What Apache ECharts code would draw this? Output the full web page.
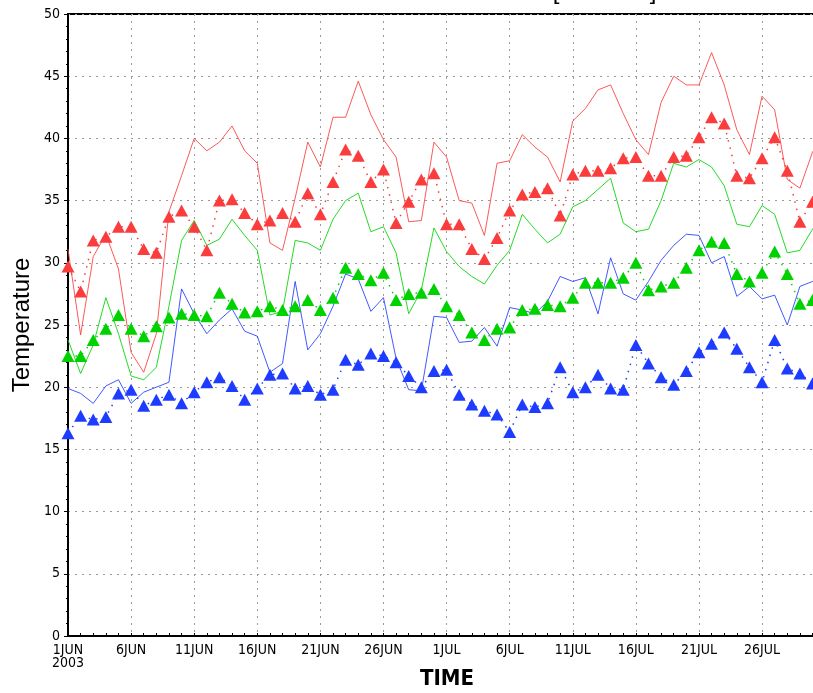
<!DOCTYPE html>
<html><head><meta charset="utf-8">
<script src="https://cdn.jsdelivr.net/npm/echarts@6/dist/echarts.min.js"></script>
<style>html,body{margin:0;padding:0;overflow:hidden;background:#fff;width:813px;height:693px}#c{width:880px;height:693px}</style>
</head><body><div id="c"></div><script>
const days = ['1JUN','2JUN','3JUN','4JUN','5JUN','6JUN','7JUN','8JUN','9JUN','10JUN',
'11JUN','12JUN','13JUN','14JUN','15JUN','16JUN','17JUN','18JUN','19JUN','20JUN',
'21JUN','22JUN','23JUN','24JUN','25JUN','26JUN','27JUN','28JUN','29JUN','30JUN',
'1JUL','2JUL','3JUL','4JUL','5JUL','6JUL','7JUL','8JUL','9JUL','10JUL',
'11JUL','12JUL','13JUL','14JUL','15JUL','16JUL','17JUL','18JUL','19JUL','20JUL',
'21JUL','22JUL','23JUL','24JUL','25JUL','26JUL','27JUL','28JUL','29JUL','30JUL',
'31JUL','1AUG','2AUG','3AUG'];
const labeledDays = ['1','6','11','16','21','26'];
const yearLabel = '2003';

const redLine = [31.1,24.2,30.5,32.3,29.5,22.8,21.2,24.3,34.1,37.0,
40.0,39.0,39.7,41.0,39.0,38.0,31.6,31.0,35.2,39.7,
37.7,41.7,41.7,44.6,41.9,39.9,38.5,33.3,33.4,39.7,
38.5,35.0,34.8,32.2,38.0,38.2,40.3,39.3,38.5,36.5,
41.4,42.4,43.9,44.3,42.0,39.9,38.7,42.9,45.0,44.3,
44.3,46.9,44.3,40.7,38.7,43.4,42.3,36.7,36.0,38.9,40.5];
const redTri = [29.7,27.7,31.8,32.1,32.9,32.9,31.1,30.8,33.7,34.2,
32.9,31.0,35.0,35.1,34.0,33.1,33.4,34.0,33.3,35.6,
33.9,36.5,39.1,38.6,36.5,37.5,33.2,34.9,36.7,37.2,
33.1,33.1,31.1,30.3,32.0,34.2,35.5,35.7,36.0,33.8,
37.1,37.4,37.4,37.6,38.4,38.5,37.0,37.0,38.5,38.6,
40.1,41.7,41.2,37.0,36.8,38.4,40.1,37.4,33.3,34.9,35.5];
const greenLine = [23.8,21.1,23.4,27.2,24.3,20.9,20.6,21.6,26.5,31.8,
33.4,31.4,31.9,33.5,32.2,31.0,25.8,26.1,31.8,31.6,
31.0,33.5,35.0,35.6,32.5,32.9,30.8,25.9,27.8,32.8,
30.9,29.7,28.9,28.3,29.8,31.0,33.9,32.7,31.6,32.3,
34.5,35.0,35.9,36.8,33.2,32.5,32.7,35.0,38.0,37.7,
38.3,37.7,36.2,33.1,32.9,34.6,33.9,30.8,31.0,32.7,34.0];
const greenTri = [22.5,22.5,23.8,24.7,25.8,24.7,24.1,24.9,25.6,25.9,
25.8,25.7,27.6,26.7,26.0,26.1,26.5,26.2,26.5,27.0,
26.2,27.2,29.6,29.1,28.6,29.2,27.0,27.5,27.6,27.9,
26.5,25.8,24.4,23.8,24.7,24.8,26.2,26.3,26.6,26.5,
27.2,28.4,28.4,28.4,28.8,30.0,27.8,28.1,28.4,29.6,
31.0,31.7,31.6,29.1,28.5,29.2,30.9,29.1,26.7,27.0,27.5];
const blueLine = [19.9,19.5,18.7,20.1,20.6,18.7,19.6,20.0,20.4,27.9,
25.9,24.3,25.4,26.3,24.5,24.1,21.2,21.9,28.5,23.0,
24.3,26.5,29.1,28.7,26.1,27.2,22.3,19.8,19.7,25.7,
25.6,23.6,23.7,24.8,23.3,26.4,26.2,25.9,26.9,28.9,
28.5,28.8,25.9,30.4,27.5,27.0,28.5,30.2,31.4,32.3,
32.2,30.0,30.5,27.3,28.1,27.1,27.4,25.0,28.1,28.5,29.0];
const blueTri = [16.3,17.7,17.4,17.6,19.5,19.8,18.5,19.0,19.4,18.7,
19.6,20.4,20.8,20.1,19.0,19.9,21.0,21.1,19.9,20.1,
19.4,19.8,22.2,21.8,22.7,22.5,22.0,20.9,20.0,21.3,
21.4,19.4,18.6,18.1,17.8,16.4,18.6,18.4,18.7,21.6,
19.6,20.0,21.0,19.9,19.8,23.4,21.9,20.8,20.2,21.3,
22.8,23.5,24.4,23.1,21.6,20.4,23.8,21.5,21.1,20.3,20.8];

const RED = '#fa3c3c', GREEN = '#00d200', BLUE = '#1e3cff';
const NARROW = '"Liberation Sans Narrow","DejaVu Sans Condensed","Liberation Sans",sans-serif';
function isLabeled(index, value) {
  const v = value !== undefined ? value : days[index];
  const m = String(v).match(/^\d+/);
  return !!m && labeledDays.indexOf(m[0]) >= 0;
}
function lineSeries(data, color) {
  return {type: 'line', data: data, symbol: 'none', silent: true, animation: false,
    lineStyle: {color: color, width: 1, opacity: 0.85}, z: 2};
}
function triSeries(data, color) {
  return {type: 'line', data: data, symbol: 'triangle', symbolSize: [13, 12], showSymbol: true, showAllSymbol: true,
    silent: true, animation: false,
    itemStyle: {color: color}, lineStyle: {color: color, width: 1.5, type: [1.5, 6]}, z: 3};
}
const chart = echarts.init(document.getElementById('c'), null, {renderer: 'canvas'});
chart.setOption({
  animation: false,
  backgroundColor: '#fff',
  grid: {left: 68, right: 17, top: 14, bottom: 57, show: true, borderColor: '#000', borderWidth: 2, backgroundColor: 'transparent'},
  xAxis: {
    type: 'category', data: days, boundaryGap: false,
    axisLine: {lineStyle: {color: '#000', width: 2}},
    axisTick: {show: true, interval: 0, inside: true, length: 3, lineStyle: {color: '#000'}},
    axisLabel: {interval: isLabeled, color: '#000', fontFamily: NARROW, fontSize: 14, margin: 8, lineHeight: 13,
      formatter: function (v, i) { return i === 0 ? v + '\n' + yearLabel : v; }},
    splitLine: {show: true, interval: isLabeled, lineStyle: {color: '#9a9a9a', width: 1, type: [2, 5]}}
  },
  yAxis: {
    type: 'value', min: 0, max: 50, interval: 5,
    axisLine: {show: true, lineStyle: {color: '#000', width: 2}},
    axisTick: {show: true, length: 4, lineStyle: {color: '#000'}},
    minorTick: {show: true, splitNumber: 5, length: 2, lineStyle: {color: '#000'}},
    axisLabel: {color: '#000', fontFamily: NARROW, fontSize: 14, margin: 8},
    splitLine: {show: true, lineStyle: {color: '#9a9a9a', width: 1, type: [2, 5]}}
  },
  graphic: [
    {type: 'text', x: 22, y: 325, rotation: Math.PI / 2, silent: true,
      style: {text: 'Temperature', font: '24px "Liberation Sans",Arial,sans-serif', fill: '#000', textAlign: 'center', textVerticalAlign: 'middle'}},
    {type: 'text', x: 447, y: 679, silent: true,
      style: {text: 'TIME', font: 'bold 22px ' + NARROW, fill: '#000', textAlign: 'center', textVerticalAlign: 'middle'}},
    {type: 'text', x: 556, y: -8, silent: true,
      style: {text: '[', font: '24px "Liberation Sans",Arial,sans-serif', fill: '#000', textAlign: 'center', textVerticalAlign: 'middle'}},
    {type: 'text', x: 653, y: -8, silent: true,
      style: {text: ']', font: '24px "Liberation Sans",Arial,sans-serif', fill: '#000', textAlign: 'center', textVerticalAlign: 'middle'}}
  ],
  series: [
    lineSeries(redLine, RED), lineSeries(greenLine, GREEN), lineSeries(blueLine, BLUE),
    triSeries(redTri, RED), triSeries(greenTri, GREEN), triSeries(blueTri, BLUE)
  ]
});
</script></body></html>
